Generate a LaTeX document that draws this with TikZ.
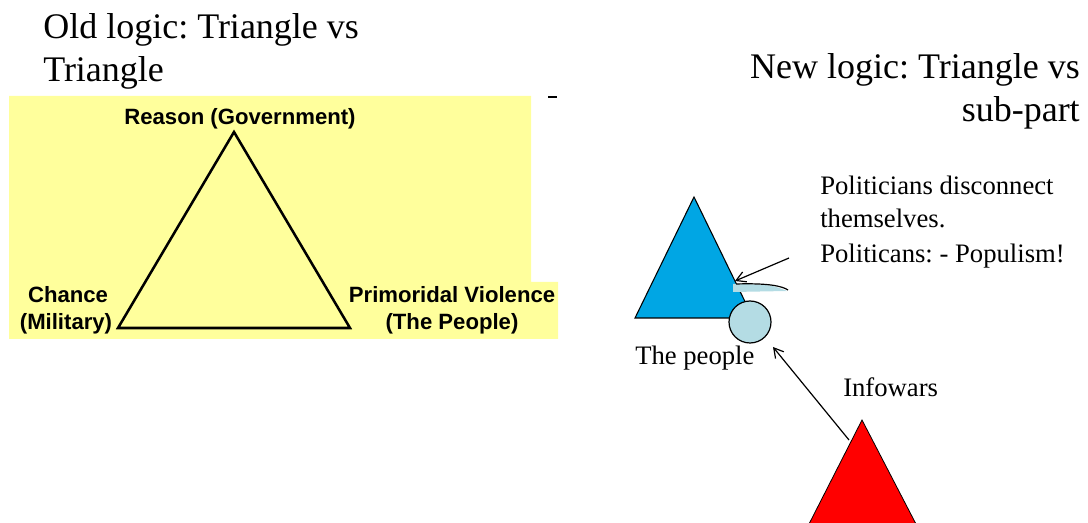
\documentclass[tikz,border=0pt]{standalone}
\usepackage{fontspec}
\setmainfont{Liberation Serif}
\newfontfamily\labfont{Liberation Sans}
\usetikzlibrary{arrows.meta}
\definecolor{yel}{HTML}{FFFF9C}
\definecolor{tblue}{RGB}{0,166,228}
\definecolor{lblue}{RGB}{180,220,228}
\definecolor{tred}{RGB}{255,0,0}
\begin{document}
\frenchspacing
\begin{tikzpicture}[x=0.75pt,y=-0.75pt,
  title/.style={inner sep=0,font=\fontsize{27}{32}\selectfont},
  txt/.style={inner sep=0,font=\fontsize{20}{24}\selectfont},
  lab/.style={inner sep=0,font=\labfont\bfseries\fontsize{16.6}{20}\selectfont},
  arr/.style={-{Straight Barb[length=7pt,width=8pt]},line width=0.9pt}]
\useasboundingbox (0,0) rectangle (1088,523);
% yellow background of old-logic panel
\fill[yel] (9,96) -- (531,96) -- (531,282) -- (558,282) -- (558,339) -- (9,339) -- cycle;
\draw[line width=2.2pt] (548,97) -- (557,97);
% titles
\node[title,anchor=base west] (t1) at (43,39) {Old logic: Triangle vs};
\node[title,anchor=base west] (t2) at (43,82) {Triangle};
\node[title,anchor=base east] (t3) at (1080,79) {New logic: Triangle vs};
\node[title,anchor=base east] (t4) at (1080,122) {sub-part};
% old triangle
\coordinate (A) at (234,132);
\coordinate (B) at (118,328);
\coordinate (C) at (350,328);
\draw[line width=1.9pt,line join=miter] (A) -- (B) -- (C) -- cycle;
\node[lab,anchor=base] (reason) at (240,125) {Reason (Government)};
\node[lab,anchor=base] (chance) at (68,303) {Chance};
\node[lab,anchor=base] (mil) at (66,330) {(Military)};
\node[lab,anchor=base] (prim) at (452,303) {Primoridal Violence};
\node[lab,anchor=base] (tpeo) at (452,330) {(The People)};
% new logic
\coordinate (BA) at (694,197);
\coordinate (BB) at (635,318);
\coordinate (BC) at (753,318);
\draw[fill=tblue,line width=0.8pt] (BA) -- (BB) -- (BC) -- cycle;
\fill[lblue] (733,284) -- (733,292) -- (787,291) .. controls (772,285) .. (742,284) -- cycle;
\draw[line width=0.9pt] (736,284) .. controls (768,283) and (782,286) .. (788,290);
\node[circle,draw,fill=lblue,inner sep=0,minimum size=31.5pt,line width=0.9pt] (circ) at (750,322) {};
\node[txt,anchor=base west] (p1) at (820,195) {Politicians disconnect};
\node[txt,anchor=base west] (p2) at (820,228) {themselves.};
\node[txt,anchor=base west] (p3) at (820,263) {Politicans: - Populism!};
\node[txt,anchor=base west] (tp) at (635,365) {The people};
\node[txt,anchor=base west] (inf) at (843,397) {Infowars};
\coordinate (a1s) at (789,258);
\coordinate (a1e) at (735,281);
\draw[arr] (a1s) -- (a1e);
\coordinate (RA) at (862,420);
\coordinate (RB) at (808,526);
\coordinate (RC) at (917,526);
\draw[fill=tred,line width=0.6pt] (RA) -- (RB) -- (RC) -- cycle;
\coordinate (a2s) at (849,440);
\coordinate (a2e) at (773,347);
\draw[arr] (a2s) -- (a2e);
\end{tikzpicture}
\end{document}
